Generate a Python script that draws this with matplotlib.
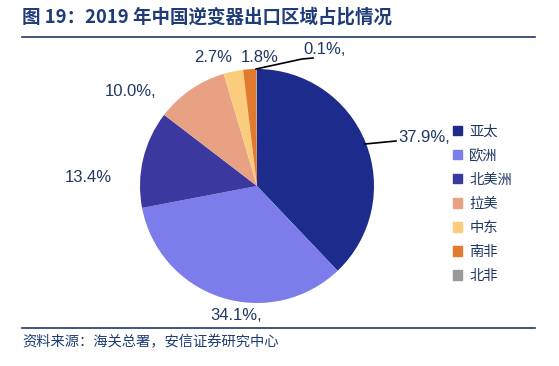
import matplotlib
matplotlib.use("Agg")
import matplotlib.pyplot as plt
from matplotlib.lines import Line2D

plt.rcParams['font.family'] = ['Noto Sans CJK SC', 'DejaVu Sans']

regions = ['亚太', '欧洲', '北美洲', '拉美', '中东', '南非', '北非']
shares = [37.9, 34.1, 13.4, 10.0, 2.7, 1.8, 0.1]
labels = ['37.9%,', '34.1%,', '13.4%', '10.0%,', '2.7%', '1.8%', '0.1%,']
colors = ['#1C2B8C', '#7C7CEA', '#3B399F', '#E9A184', '#FBCB7E', '#E27A2E', '#999999']

title = '图 19：2019 年中国逆变器出口区域占比情况'
source = '资料来源：海关总署，安信证券研究中心'

W, H = 559, 366
fig = plt.figure(figsize=(W / 100, H / 100), dpi=100)
fig.patch.set_facecolor('white')

txt_color = '#1F3864'

# Title and rules
fig.text(22 / W, 1 - 17 / H, title, fontsize=13.3, fontweight='heavy', color='#1F3C78',
         va='center', ha='left')
fig.add_artist(Line2D([22 / W, 535 / W], [1 - 37 / H, 1 - 37 / H], color='#1F3864', lw=1.2))
fig.add_artist(Line2D([22 / W, 535 / W], [1 - 328 / H, 1 - 328 / H], color='#1F3864', lw=1.2))
fig.text(22 / W, 1 - 342 / H, source, fontsize=10.3, style='italic', color='#1F3C78',
         va='center', ha='left')

# Pie axes
cx, cy, R = 257, 186, 117
ax = fig.add_axes([(cx - R) / W, (H - cy - R) / H, 2 * R / W, 2 * R / H])
wedges, _ = ax.pie(shares, colors=colors, startangle=90, counterclock=False,
                   radius=1.0, wedgeprops=dict(linewidth=0))
ax.set_xlim(-1, 1)
ax.set_ylim(-1, 1)
ax.set_aspect('equal')
ax.axis('off')

def px(x, y):
    return ((x - cx) / R, (cy - y) / R)

label_pos = [(424, 137), (236, 315), (88, 178), (131, 92), (213, 58), (260, 58), (325, 50)]
for lab, (x, y) in zip(labels, label_pos):
    ax.text(*px(x, y), lab, fontsize=12, color=txt_color, ha='center', va='center',
            family=['Liberation Sans'], clip_on=False)

# leader lines
x0, y0 = px(365, 144)
x1, y1 = px(396, 141)
ax.plot([x0, x1], [y0, y1], color='black', lw=1.2, clip_on=False)
xa, ya = px(256, 69)
xb, yb = px(302, 59)
xc, yc = px(313, 58)
ax.plot([xa, xb, xc], [ya, yb, yc], color='black', lw=1.2, clip_on=False)

# Legend
handles = [plt.Rectangle((0, 0), 1, 1, color=c) for c in colors]
leg = fig.legend(handles, regions, loc='upper left', bbox_to_anchor=(447 / W, 1 - 119 / H),
                 frameon=False, fontsize=10.3, handlelength=0.65, handleheight=0.65,
                 handletextpad=0.5, labelspacing=0.7, borderaxespad=0)
for t in leg.get_texts():
    t.set_color(txt_color)

fig.savefig('out.png', dpi=100, facecolor='white')
